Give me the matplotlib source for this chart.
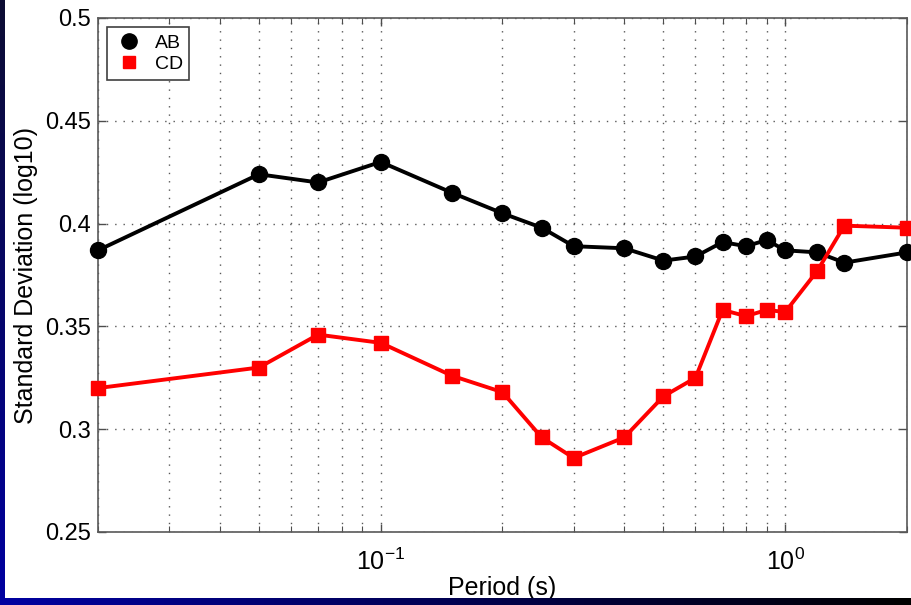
import numpy as np
import matplotlib.pyplot as plt
from matplotlib.lines import Line2D
from matplotlib.ticker import LogLocator, NullFormatter

plt.rcParams['font.family'] = ['Liberation Sans', 'DejaVu Sans']
plt.rcParams['mathtext.fontset'] = 'custom'
plt.rcParams['mathtext.rm'] = 'Liberation Sans'
plt.rcParams['mathtext.it'] = 'Liberation Sans'
plt.rcParams['mathtext.bf'] = 'Liberation Sans:bold'

# Periods (s) and standard deviations
period = [0.02, 0.05, 0.07, 0.1, 0.15, 0.2, 0.25, 0.3, 0.4, 0.5, 0.6,
          0.7, 0.8, 0.9, 1.0, 1.2, 1.4, 2.0]
std_ab = [0.387, 0.424, 0.420, 0.430, 0.415, 0.405, 0.398, 0.389, 0.388, 0.382, 0.384,
          0.391, 0.389, 0.392, 0.387, 0.386, 0.381, 0.386]
std_cd = [0.320, 0.330, 0.346, 0.342, 0.326, 0.318, 0.296, 0.286, 0.296, 0.316, 0.325,
          0.358, 0.355, 0.358, 0.357, 0.377, 0.399, 0.398]

series_names = ['AB', 'CD']
y_ticks = [0.25, 0.3, 0.35, 0.4, 0.45, 0.5]
y_tick_labels = ['0.25', '0.3', '0.35', '0.4', '0.45', '0.5']

W, H = 912, 605
fig = plt.figure(figsize=(W / 100, H / 100), dpi=100, facecolor='white')

ax = fig.add_axes([98 / W, 1 - 532 / H, 809 / W, 514 / H])
ax.plot(period, std_ab, color='black', lw=2.8, marker='o', ms=11.5,
        clip_on=False, zorder=3)
ax.plot(period, std_cd, color='#ff0000', lw=2.8, marker='s', ms=9.5,
        clip_on=False, zorder=3)

ax.set_xscale('log')
ax.set_xlim(0.02, 2)
ax.set_ylim(0.25, 0.5)
ax.set_yticks(y_ticks)
ax.set_yticklabels(y_tick_labels)
ax.xaxis.set_major_locator(LogLocator(base=10, numticks=10))
ax.xaxis.set_minor_locator(LogLocator(base=10, subs=np.arange(2, 10), numticks=20))
ax.xaxis.set_minor_formatter(NullFormatter())

ax.grid(True, which='major', axis='both', color='0.35', ls=(0, (1, 5)), lw=1)
ax.grid(True, which='minor', axis='x', color='0.35', ls=(0, (1, 5)), lw=1)

ax.tick_params(which='both', direction='in', top=True, right=True,
               colors='0.3', labelcolor='black', labelsize=17)
ax.tick_params(axis='y', pad=5)
ax.tick_params(axis='x', pad=12, labelsize=18)
ax.tick_params(which='major', length=6, width=1)
ax.tick_params(which='minor', length=4, width=0.8)
for s in ax.spines.values():
    s.set_color('0.35')
    s.set_linewidth(1.2)

ax.set_xlabel('Period (s)', fontsize=18, labelpad=1)
ax.set_ylabel('Standard Deviation (log10)', fontsize=18, labelpad=5)

handles = [Line2D([], [], color='black', marker='o', ls='none', ms=11),
           Line2D([], [], color='#ff0000', marker='s', ls='none', ms=8.5)]
leg = ax.legend(handles, series_names, loc='upper left', fontsize=14,
                bbox_to_anchor=(0.011, 0.982), borderaxespad=0,
                handletextpad=0.5, borderpad=0.35, labelspacing=0.2,
                fancybox=False, framealpha=1, handlelength=1.6)
leg.get_frame().set_edgecolor('0.25')
leg.get_frame().set_linewidth(1.2)

# slide border: dark navy strip on the left, blue-to-black band at the bottom
ov = fig.add_axes([0, 0, 1, 1], zorder=10)
ov.patch.set_alpha(0)
ov.axis('off')
left = np.zeros((100, 1, 3))
left[:, 0, 2] = np.linspace(0.2, 0.63, 100)
left[:, 0, 0] = np.linspace(0.05, 0.0, 100)
left[:, 0, 1] = np.linspace(0.05, 0.0, 100)
bottom = np.zeros((1, 100, 3))
bottom[0, :, 2] = np.linspace(0.63, 0.0, 100)
ov.imshow(left, extent=[0, 5, 605, 0], aspect='auto')
ov.imshow(bottom, extent=[0, W, H, 598], aspect='auto')
ov.set_xlim(0, W)
ov.set_ylim(H, 0)

fig.savefig('out.png', dpi=100)
